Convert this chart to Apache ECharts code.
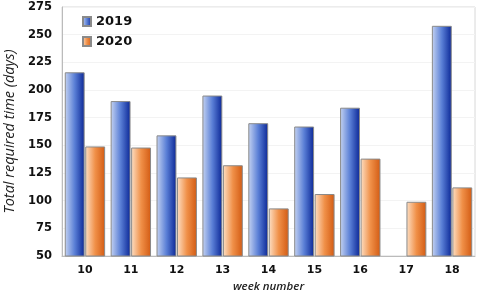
<!DOCTYPE html>
<html><head><meta charset="utf-8">
<script src="https://cdn.jsdelivr.net/npm/echarts@6/dist/echarts.min.js"></script>
<style>html,body{margin:0;padding:0;background:#fff}#c{width:480px;height:293px}</style>
</head><body><div id="c"></div>
<script>
var weeks = ['10','11','12','13','14','15','16','17','18'];
var s2019 = [216, 190, 159, 195, 170, 167, 184, null, 258];
var s2020 = [149, 148, 121, 132, 93, 106, 138, 99, 112];
var yTicks = {min: 50, max: 275, interval: 25};

function grad(light, mid, dark){
  return new echarts.graphic.LinearGradient(0,0,1,0,[
    {offset:0,color:light},{offset:0.5,color:mid},{offset:1,color:dark}]);
}
var blue = grad('#c6d4f2','#5a7fd6','#0a2696');
var orange = grad('#fde0c6','#f09048','#d25a12');
var font = 'DejaVu Sans';
var chart = echarts.init(document.getElementById('c'));
chart.setOption({
  animation:false,
  textStyle:{fontFamily:font},
  grid:{left:62,right:5,top:7,bottom:37,show:true,borderColor:'#d8d8d8',borderWidth:1,
        containLabel:false, outerBoundsMode:'none'},
  legend:{
    left:77, top:10, orient:'vertical', itemGap:7, itemWidth:8, itemHeight:9, icon:'rect',
    textStyle:{fontFamily:font,fontWeight:'bold',fontSize:13,color:'#111'},
    data:['2019','2020']
  },
  xAxis:{
    type:'category', data:weeks,
    name:'week number', nameLocation:'middle', nameGap:25,
    nameTextStyle:{fontFamily:'Open Sans',fontStyle:'italic',fontWeight:'600',fontSize:11.5,color:'#222'},
    axisLine:{lineStyle:{color:'#bbb'}}, axisTick:{show:false},
    axisLabel:{fontFamily:font,fontWeight:'bold',fontSize:11,color:'#111',margin:9}
  },
  yAxis:{
    type:'value', min:yTicks.min, max:yTicks.max, interval:yTicks.interval,
    name:'Total required time (days)', nameLocation:'middle', nameGap:40,
    nameTextStyle:{fontFamily:'Open Sans',fontStyle:'italic',fontWeight:'normal',fontSize:14.5,color:'#222'},
    axisLine:{show:true,lineStyle:{color:'#bbb'}}, axisTick:{show:false},
    axisLabel:{fontFamily:font,fontWeight:'bold',fontSize:11.5,color:'#111',margin:10},
    splitLine:{lineStyle:{color:'#f3f3f3'}}
  },
  series:[
    {name:'2019',type:'bar',data:s2019,barGap:'3%',barCategoryGap:'12%',
     itemStyle:{color:blue,borderColor:'#8a8a8a',borderWidth:1}},
    {name:'2020',type:'bar',data:s2020,
     itemStyle:{color:orange,borderColor:'#8a8a8a',borderWidth:1}}
  ]
});
</script></body></html>
